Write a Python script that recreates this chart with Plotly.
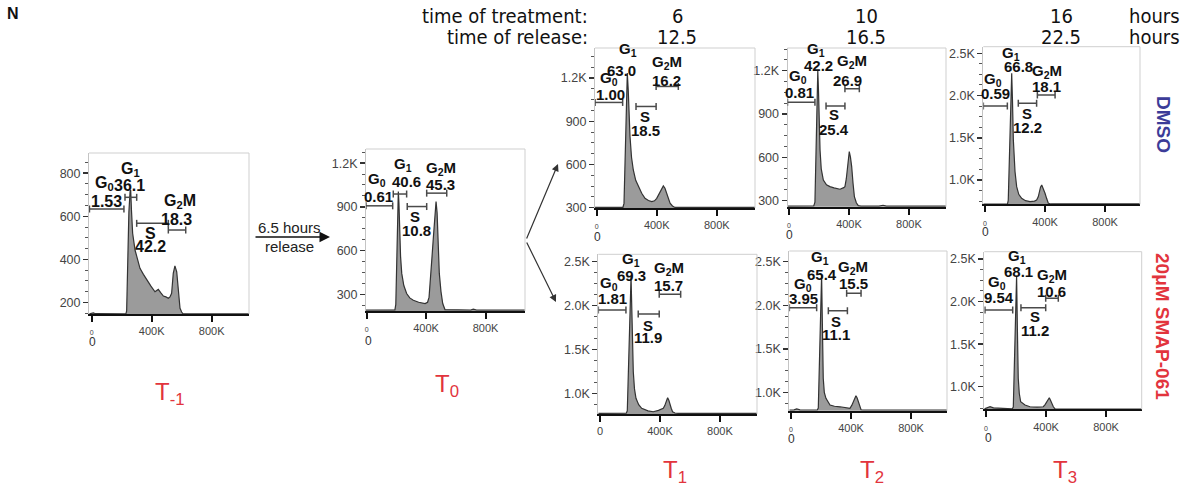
import plotly.graph_objects as go

W, H = 1195, 492

# ---------------- data (x in thousands of DNA-content units, y = counts) ----------------
phases = ["G<sub>0</sub>", "G<sub>1</sub>", "S", "G<sub>2</sub>M"]

tm1_x = [-15, 0, 11, 25, 100, 200, 228, 233, 240, 248, 256, 260, 265, 273, 289, 305, 322, 345, 367, 395,
         422, 444, 460, 478, 495, 511, 522, 533, 544, 555, 567, 578, 589, 600, 607, 650, 1050]
tm1_y = [146, 147, 151, 147, 147, 146, 146, 160, 400, 620, 715, 722, 630, 521, 443, 395, 358, 330, 304, 275,
         249, 260, 245, 229, 225, 219, 225, 242, 335, 369, 342, 242, 172, 155, 148, 146, 146]
tm1_pct = ["1.53", "36.1", "42.2", "18.3"]

t0_x = [-5, 100, 190, 196, 200, 205, 210, 213, 217, 222, 228, 236, 250, 269, 290, 314, 350, 393, 410, 420,
        430, 440, 449, 458, 467, 474, 482, 489, 500, 512, 527, 600, 700, 718, 740, 1066]
t0_y = [192, 192, 193, 230, 400, 700, 950, 1005, 930, 750, 560, 443, 360, 305, 275, 259, 245, 236, 245, 280,
        400, 560, 690, 860, 936, 860, 650, 443, 320, 236, 195, 192, 192, 198, 192, 192]
t0_pct = ["0.61", "40.6", "10.8", "45.3"]

t1d_x = [-11, 100, 175, 182, 190, 197, 204, 210, 216, 222, 232, 244, 260, 278, 300, 322, 345, 367, 385, 400,
         415, 429, 444, 455, 467, 478, 489, 505, 522, 600, 1056]
t1d_y = [302, 302, 303, 330, 700, 1100, 1235, 1120, 950, 794, 650, 562, 490, 446, 400, 365, 350, 342, 348, 365,
         395, 423, 451, 435, 400, 360, 331, 312, 302, 302, 302]
t1d_pct = ["1.00", "63.0", "18.5", "16.2"]

t2d_x = [-10, 100, 165, 173, 180, 187, 192, 197, 202, 207, 215, 229, 250, 273, 300, 340, 365, 373, 382, 391,
         402, 410, 418, 427, 436, 449, 462, 480, 600, 627, 650, 1047]
t2d_y = [262, 262, 263, 290, 600, 1000, 1200, 1050, 820, 651, 520, 443, 410, 397, 388, 379, 390, 397, 450, 536,
         640, 600, 536, 420, 328, 285, 265, 262, 262, 268, 262, 262]
t2d_pct = ["0.81", "42.2", "25.4", "26.9"]

t3d_x = [-11, 100, 150, 155, 162, 170, 178, 183, 189, 200, 211, 225, 244, 270, 300, 330, 344, 355, 362, 370,
         378, 386, 393, 400, 411, 422, 440, 600, 620, 1033]
t3d_y = [715, 715, 716, 760, 1300, 1900, 2264, 1950, 1474, 1100, 921, 830, 783, 755, 743, 750, 763, 800, 861, 915,
         941, 910, 870, 842, 780, 724, 716, 716, 722, 716]
t3d_pct = ["0.59", "66.8", "12.2", "18.1"]

t1s_x = [-11, 100, 175, 182, 190, 198, 207, 213, 218, 222, 230, 240, 258, 278, 320, 355, 390, 422, 432, 440,
         451, 459, 467, 475, 484, 500, 520, 1047]
t1s_y = [772, 772, 773, 800, 1300, 2000, 2328, 1900, 1500, 1246, 1050, 943, 870, 829, 800, 790, 805, 829, 860, 904,
         950, 920, 886, 830, 790, 775, 772, 772]
t1s_pct = ["1.81", "69.3", "11.9", "15.7"]

t2s_x = [-11, 20, 38, 60, 100, 175, 182, 190, 197, 204, 209, 215, 222, 233, 260, 290, 327, 360, 393, 405,
         416, 425, 433, 441, 449, 458, 467, 480, 1040]
t2s_y = [797, 798, 810, 798, 797, 797, 820, 1400, 2100, 2348, 1800, 1161, 1000, 931, 854, 840, 834, 825, 816, 850,
         892, 930, 961, 935, 892, 840, 800, 797, 797]
t2s_pct = ["3.95", "65.4", "11.1", "15.5"]

t3s_x = [-11, 10, 27, 50, 100, 175, 182, 190, 197, 204, 209, 215, 222, 231, 260, 293, 340, 382, 394, 404,
         413, 422, 430, 438, 449, 460, 480, 1038]
t3s_y = [740, 750, 765, 752, 745, 740, 760, 1400, 2050, 2303, 1700, 1099, 920, 824, 785, 765, 760, 765, 790, 824,
         850, 871, 840, 805, 765, 740, 736, 736]
t3s_pct = ["9.54", "68.1", "11.2", "10.6"]

# gates: [x_start, x_end, level]
tm1_gates = [[-15, 215, 634], [222, 300, 688], [300, 511, 567], [511, 627, 536]]
t0_gates = [[-5, 175, 907], [179, 269, 988], [273, 404, 902], [404, 539, 994]]
t1d_gates = [[-11, 173, 1031], None, [262, 396, 1003], [396, 544, 1142]]
t2d_gates = [[-10, 173, 982], None, [247, 373, 956], [373, 469, 1074]]
t3d_gates = [[-11, 149, 1877], None, [222, 344, 1909], [349, 467, 2007]]
t1s_gates = [[-11, 173, 1949], None, [255, 395, 1903], [395, 538, 2128]]
t2s_gates = [[-11, 171, 1972], None, [249, 376, 1938], [371, 467, 2138]]
t3s_gates = [[-7, 178, 1900], None, [233, 398, 1927], [398, 482, 2038]]

treat_hours = ["6", "10", "16"]
release_hours = ["12.5", "16.5", "22.5"]

# ---------------- layout helpers (positions / styles) ----------------
tm1_lab = [(85, 753, 100, 668), (256, 815, 255, 742), (395, 521, 395, 459), (588, 668, 567, 587)]
t0_lab = [(67, 1086, 78, 971), (247, 1190, 269, 1074), (325, 833, 332, 741), (498, 1160, 498, 1052)]
t1d_lab = [(84, 1194, 89, 1089), (211, 1398, 167, 1254), (322, 933, 322, 834), (467, 1305, 467, 1184)]
t2d_lab = [(62, 1159, 69, 1048), (180, 1344, 196, 1233), (302, 894, 302, 790), (418, 1263, 389, 1131)]
t3d_lab = [(55, 2193, 67, 2019), (171, 2501, 222, 2342), (282, 1790, 282, 1624), (411, 2283, 407, 2105)]
t1s_lab = [(62, 2253, 84, 2082), (207, 2530, 211, 2347), (318, 1778, 318, 1633), (462, 2424, 456, 2226)]
t2s_lab = [(82, 2233, 82, 2080), (193, 2547, 204, 2348), (300, 1812, 300, 1659), (416, 2432, 416, 2253)]
t3s_lab = [(75, 2225, 89, 2045), (205, 2526, 215, 2350), (327, 1822, 327, 1665), (438, 2311, 438, 2115)]

yt_a = ([200, 400, 600, 800], ["200", "400", "600", "800"], 50, 150)
yt_b = ([300, 600, 900, 1200], ["300", "600", "900", "1.2K"], 75, 225)
yt_c = ([1000, 1500, 2000, 2500], ["1.0K", "1.5K", "2.0K", "2.5K"], 125, 750)

panels = [
    dict(x=tm1_x, y=tm1_y, pct=tm1_pct, gates=tm1_gates, lab=tm1_lab, frame=(89, 249, 153, 314),
         xr=(-18, 1049), yr=(145.6, 894), yt=yt_a, zero=(92, 342), small0=True, fs=16),
    dict(x=t0_x, y=t0_y, pct=t0_pct, gates=t0_gates, lab=t0_lab, frame=(366, 525, 149, 311),
         xr=(-4.7, 1066), yr=(185, 1297), yt=yt_b, zero=(368, 341), small0=True, fs=15),
    dict(x=t1d_x, y=t1d_y, pct=t1d_pct, gates=t1d_gates, lab=t1d_lab, frame=(595, 755, 48, 208),
         xr=(-11.3, 1055), yr=(298, 1409), yt=yt_b, zero=(598, 237), small0=True, fs=15),
    dict(x=t2d_x, y=t2d_y, pct=t2d_pct, gates=t2d_gates, lab=t2d_lab, frame=(787.5, 946, 48, 206.7),
         xr=(-10, 1047), yr=(258, 1357), yt=yt_b, zero=(789, 235), small0=True, fs=15),
    dict(x=t3d_x, y=t3d_y, pct=t3d_pct, gates=t3d_gates, lab=t3d_lab, frame=(983.3, 1140, 46.7, 204.3),
         xr=(-11.3, 1033), yr=(712, 2578), yt=yt_c, zero=(985, 232), small0=True, fs=15),
    dict(x=t1s_x, y=t1s_y, pct=t1s_pct, gates=t1s_gates, lab=t1s_lab, frame=(598.3, 757, 254.3, 414),
         xr=(-11.3, 1047), yr=(764, 2584), yt=yt_c, zero=None, small0=False, fs=15),
    dict(x=t2s_x, y=t2s_y, pct=t2s_pct, gates=t2s_gates, lab=t2s_lab, frame=(789.3, 947, 251, 410.7),
         xr=(-11.3, 1040), yr=(789, 2623), yt=yt_c, zero=(791, 439), small0=True, fs=15),
    dict(x=t3s_x, y=t3s_y, pct=t3s_pct, gates=t3s_gates, lab=t3s_lab, frame=(984.3, 1141.7, 251.7, 409.3),
         xr=(-11.3, 1038), yr=(735, 2586), yt=yt_c, zero=(988, 438), small0=True, fs=15),
]

FONT = "Liberation Sans, Arial, Helvetica, sans-serif"
NARROW = "DejaVu Sans Condensed, Liberation Sans Narrow, sans-serif"
RED = "#e2343d"
BLUE = "#3c3c98"
GATE = "#4a4a4a"


def px(v):
    return v / W


def py(v):
    return 1 - v / H


def ann(**kw):
    d = dict(showarrow=False, xanchor="center", yanchor="middle")
    d.update(kw)
    return d


fig = go.Figure()
shapes = []
annotations = []
layout = dict(width=W, height=H, margin=dict(l=0, r=0, t=0, b=0, autoexpand=False),
              paper_bgcolor="white", plot_bgcolor="rgba(0,0,0,0)", showlegend=False)

NP = len(panels)
for i, p in enumerate(panels):
    n = "" if i == 0 else str(i + 1)
    xa, ya = "x" + n, "y" + n
    tw = str(NP + i + 1)  # twin axis id for unlabelled ticks
    L, R, T, B = p["frame"]
    fig.add_trace(go.Scatter(x=p["x"], y=p["y"], xaxis=xa, yaxis=ya, mode="lines", fill="tozeroy",
                             fillcolor="#9b9b9b", line=dict(color="#333333", width=1.2), hoverinfo="skip"))
    zero_txt = "<span style='font-size:7px'>0</span>" if p["small0"] else "0"
    layout["xaxis" + n] = dict(
        domain=[px(L), px(R)], range=list(p["xr"]), anchor=ya, showgrid=False, zeroline=False,
        showline=True, linecolor="#111", linewidth=2, ticks="outside", ticklen=6, tickwidth=2,
        tickcolor="#111", tickmode="array", tickvals=[0, 400, 800], ticktext=[zero_txt, "400K", "800K"],
        tickfont=dict(family=FONT, size=11, color="#444"), fixedrange=True)
    layout["xaxis" + tw] = dict(
        overlaying=xa, anchor=ya, side="bottom", range=list(p["xr"]), showgrid=False, zeroline=False,
        showline=False, showticklabels=False, ticks="outside", ticklen=6, tickwidth=2, tickcolor="#111",
        tickmode="array", tickvals=[200, 600, 1000],
        minor=dict(tickmode="array", tickvals=[v for v in range(50, 1050, 50) if v % 200],
                   ticks="outside", ticklen=3, tickwidth=1, tickcolor="#222"),
        fixedrange=True)
    tv, tt, mstep, mstart = p["yt"]
    mv = []
    v = mstart
    while v < p["yr"][1]:
        if v not in tv and v > p["yr"][0]:
            mv.append(v)
        v += mstep
    layout["yaxis" + n] = dict(
        domain=[py(B), py(T)], range=list(p["yr"]), anchor=xa, showgrid=False, zeroline=False,
        showline=True, linecolor="#c4c4c4", linewidth=1, ticks="outside", ticklen=5, tickwidth=1.5,
        tickcolor="#333", tickmode="array", tickvals=tv, ticktext=tt,
        tickfont=dict(family=FONT, size=12.5, color="#444"),
        minor=dict(tickmode="array", tickvals=mv, ticks="outside", ticklen=3, tickwidth=1, tickcolor="#555"),
        fixedrange=True)
    shapes.append(dict(type="line", xref="paper", yref="paper", x0=px(L), x1=px(R), y0=py(T), y1=py(T),
                       line=dict(color="#cfcfcf", width=1)))
    shapes.append(dict(type="line", xref="paper", yref="paper", x0=px(R), x1=px(R), y0=py(T), y1=py(B),
                       line=dict(color="#cfcfcf", width=1)))
    for g in p["gates"]:
        if g is None:
            continue
        x0, x1, lev = g
        shapes.append(dict(type="line", xref=xa, yref=ya, x0=x0, x1=x1, y0=lev, y1=lev,
                           line=dict(color=GATE, width=1.5)))
        for xe in (x0, x1):
            shapes.append(dict(type="line", xref=xa, yref=ya, ysizemode="pixel", yanchor=lev,
                               x0=xe, x1=xe, y0=-3.5, y1=3.5, line=dict(color=GATE, width=1.5)))
    lf = dict(family=FONT, size=p["fs"], color="#111")
    for k in range(4):
        nx, ny, vx, vy = p["lab"][k]
        annotations.append(ann(xref=xa, yref=ya, x=nx, y=ny, text="<b>" + phases[k] + "</b>", font=lf))
        annotations.append(ann(xref=xa, yref=ya, x=vx, y=vy, text="<b>" + p["pct"][k] + "</b>", font=lf))
    if p["zero"] is not None:
        zx, zy = p["zero"]
        annotations.append(ann(xref="paper", yref="paper", x=px(zx), y=py(zy), text="0",
                               font=dict(family=FONT, size=12, color="#333")))

# header
hfont = dict(family=NARROW, size=20, color="#111")
annotations += [
    ann(xref="paper", yref="paper", x=px(590), y=py(16), text="time of treatment:", xanchor="right", font=hfont),
    ann(xref="paper", yref="paper", x=px(590), y=py(37), text="time of release:", xanchor="right", font=hfont),
]
col_x = [677, 866, 1061]
for cx, th, rh in zip(col_x, treat_hours, release_hours):
    annotations.append(ann(xref="paper", yref="paper", x=px(cx), y=py(16), text=th, font=hfont))
    annotations.append(ann(xref="paper", yref="paper", x=px(cx), y=py(37), text=rh, font=hfont))
annotations.append(ann(xref="paper", yref="paper", x=px(1127), y=py(16), text="hours", xanchor="left", font=hfont))
annotations.append(ann(xref="paper", yref="paper", x=px(1127), y=py(37), text="hours", xanchor="left", font=hfont))

annotations.append(ann(xref="paper", yref="paper", x=px(13), y=py(14), text="<b>N</b>",
                       font=dict(family=FONT, size=16, color="#111")))

annotations.append(ann(xref="paper", yref="paper", x=px(1163), y=py(124), text="<b>DMSO</b>", textangle=90,
                       font=dict(family=FONT, size=19, color=BLUE)))
annotations.append(ann(xref="paper", yref="paper", x=px(1163), y=py(326), text="<b>20μM SMAP-061</b>",
                       textangle=90, font=dict(family=FONT, size=19, color=RED)))

tlabels = [("T<sub>-1</sub>", 160, 393), ("T<sub>0</sub>", 440, 385), ("T<sub>1</sub>", 668, 471),
           ("T<sub>2</sub>", 865, 471), ("T<sub>3</sub>", 1058, 471)]
for t, tx, ty in tlabels:
    annotations.append(ann(xref="paper", yref="paper", x=px(tx - 7), y=py(ty), text=t, xanchor="left",
                           font=dict(family=FONT, size=24, color=RED)))

# release arrow
annotations.append(dict(xref="paper", yref="paper", x=px(330), y=py(237), ax=-76, ay=0, text="",
                        showarrow=True, arrowhead=2, arrowsize=1.5, arrowwidth=1.4, arrowcolor="#111"))
annotations.append(ann(xref="paper", yref="paper", x=px(289), y=py(227), text="6.5 hours",
                       font=dict(family=FONT, size=15, color="#222")))
annotations.append(ann(xref="paper", yref="paper", x=px(289), y=py(246), text="release",
                       font=dict(family=FONT, size=15, color="#222")))
annotations.append(dict(xref="paper", yref="paper", x=px(558), y=py(164), ax=-32, ay=76, text="",
                        showarrow=True, arrowhead=2, arrowsize=1.2, arrowwidth=1.2, arrowcolor="#333"))
annotations.append(dict(xref="paper", yref="paper", x=px(556), y=py(302), ax=-30, ay=-61, text="",
                        showarrow=True, arrowhead=2, arrowsize=1.2, arrowwidth=1.2, arrowcolor="#333"))

layout["shapes"] = shapes
layout["annotations"] = annotations
fig.update_layout(**layout)
fig.write_html("out.html", config={"displayModeBar": False, "staticPlot": True},
               post_script="document.body.style.margin='0px';")
